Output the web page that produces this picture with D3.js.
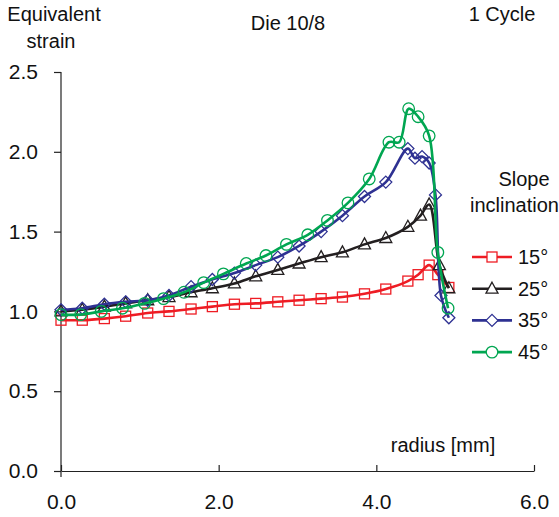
<!DOCTYPE html>
<html>
<head>
<meta charset="utf-8">
<script src="https://cdn.jsdelivr.net/npm/d3@7/dist/d3.min.js"></script>
<style>
  body { margin: 0; background: #fff; }
  svg text { font-family: "Liberation Sans", Arial, sans-serif; fill: #111; }
</style>
</head>
<body>
<svg width="559" height="517"></svg>
<script>
// datos (radio en mm, deformacion equivalente)
var x15 = [0, 0.27, 0.55, 0.82, 1.1, 1.37, 1.65, 1.92, 2.2, 2.47, 2.75, 3.02, 3.3, 3.57, 3.85, 4.12, 4.4, 4.53, 4.67, 4.78, 4.92];
var y15 = [0.945, 0.945, 0.955, 0.97, 0.99, 1.0, 1.015, 1.03, 1.045, 1.05, 1.06, 1.07, 1.08, 1.09, 1.11, 1.14, 1.19, 1.23, 1.29, 1.23, 1.15];

var x25 = [0, 0.27, 0.55, 0.82, 1.1, 1.37, 1.65, 1.92, 2.2, 2.47, 2.75, 3.02, 3.3, 3.57, 3.85, 4.12, 4.4, 4.56, 4.67, 4.8, 4.92];
var y25 = [1.0, 1.01, 1.03, 1.05, 1.07, 1.09, 1.12, 1.145, 1.175, 1.22, 1.26, 1.30, 1.34, 1.37, 1.42, 1.46, 1.53, 1.60, 1.67, 1.29, 1.145];

var x35 = [0, 0.27, 0.55, 0.82, 1.1, 1.37, 1.65, 1.92, 2.2, 2.47, 2.75, 3.02, 3.3, 3.57, 3.85, 4.12, 4.4, 4.49, 4.58, 4.67, 4.75, 4.82, 4.92];
var y35 = [1.01, 1.02, 1.045, 1.06, 1.07, 1.10, 1.155, 1.20, 1.24, 1.29, 1.34, 1.41, 1.50, 1.60, 1.72, 1.81, 2.02, 1.96, 1.97, 1.93, 1.73, 1.10, 0.96];

var x45 = [0, 0.25, 0.51, 0.78, 1.06, 1.3, 1.56, 1.81, 2.06, 2.35, 2.6, 2.86, 3.13, 3.38, 3.64, 3.91, 4.16, 4.29, 4.41, 4.53, 4.67, 4.78, 4.91];
var y45 = [0.98, 0.98, 1.0, 1.02, 1.05, 1.08, 1.12, 1.18, 1.235, 1.30, 1.35, 1.42, 1.48, 1.57, 1.68, 1.83, 2.06, 2.06, 2.27, 2.22, 2.10, 1.37, 1.02];

var etiquetas = ["15°", "25°", "35°", "45°"];
var colores = ["#ee1c24", "#231f20", "#2e3192", "#00a651"];
var simbolos = ["square", "triangle", "diamond", "circle"];
var xTicks = [0, 2, 4, 6];
var yTicks = [0, 0.5, 1, 1.5, 2, 2.5];

var series = [
  {x: x15, y: y15},
  {x: x25, y: y25},
  {x: x35, y: y35},
  {x: x45, y: y45}
];

var svg = d3.select("svg");

var x = d3.scaleLinear().domain([0, 6]).range([61, 534]),
    y = d3.scaleLinear().domain([0, 2.5]).range([471, 72]);

// ejes
var ejeX = svg.append("g")
    .attr("transform", "translate(0," + y(0) + ")")
    .call(d3.axisBottom(x).tickValues(xTicks).tickFormat(d3.format(".1f"))
      .tickSizeInner(-6).tickSizeOuter(0).tickPadding(23));
ejeX.selectAll("text").style("font-size", "21px");

var ejeY = svg.append("g")
    .attr("transform", "translate(" + x(0) + ",0)")
    .call(d3.axisLeft(y).tickValues(yTicks).tickFormat(d3.format(".1f"))
      .tickSizeInner(7).tickSizeOuter(0).tickPadding(16));
ejeY.selectAll("text").style("font-size", "21px");
ejeY.select(".domain").attr("d", "M0," + (y(0) + 6) + "V" + y(2.5));

svg.selectAll(".domain, .tick line").attr("stroke", "#222").attr("stroke-width", 1.2);

var line = d3.line()
    .curve(d3.curveCatmullRom.alpha(0.5))
    .x(function(d) { return x(d[0]); })
    .y(function(d) { return y(d[1]); });

function marcador(sel, tipo, color) {
  if (tipo == "square") {
    sel.append("rect").attr("x", -5).attr("y", -5).attr("width", 10).attr("height", 10);
  } else if (tipo == "triangle") {
    sel.append("path").attr("d", "M0,-6.5L6,4.5L-6,4.5Z");
  } else if (tipo == "diamond") {
    sel.append("path").attr("d", "M0,-6L6,0L0,6L-6,0Z");
  } else {
    sel.append("circle").attr("r", 5.8);
  }
  sel.selectAll("rect, path, circle")
    .attr("fill", "none")
    .attr("stroke", color)
    .attr("stroke-width", 1.3);
}

var grupos = svg.selectAll(".serie")
    .data(series)
    .enter().append("g")
    .attr("class", "serie");

grupos.append("path")
    .attr("fill", "none")
    .attr("stroke", function(d, i) { return colores[i]; })
    .attr("stroke-width", 2.6)
    .attr("d", function(d) { return line(d.x.map(function(v, k) { return [v, d.y[k]]; })); });

grupos.each(function(d, i) {
  var g = d3.select(this);
  d.x.forEach(function(v, k) {
    var m = g.append("g").attr("transform", "translate(" + x(v) + "," + y(d.y[k]) + ")");
    marcador(m, simbolos[i], colores[i]);
  });
});

// leyenda
svg.append("text").attr("x", 524).attr("y", 186).attr("text-anchor", "middle").style("font-size", "20px").text("Slope");
svg.append("text").attr("x", 559).attr("y", 212).attr("text-anchor", "end").style("font-size", "20px").text("inclination");

etiquetas.forEach(function(t, i) {
  var ly = 257 + i * 31.7;
  var g = svg.append("g");
  g.append("line").attr("x1", 472).attr("x2", 512).attr("y1", ly).attr("y2", ly)
    .attr("stroke", colores[i]).attr("stroke-width", 2.6);
  var m = g.append("g").attr("transform", "translate(492," + ly + ")");
  marcador(m, simbolos[i], colores[i]);
  m.selectAll("rect, path, circle").attr("fill", "#fff");
  g.append("text").attr("x", 518).attr("y", ly + 7).style("font-size", "20px").text(t);
});

// textos
svg.append("text").attr("x", 54).attr("y", 21).attr("text-anchor", "middle").style("font-size", "20px").text("Equivalent");
svg.append("text").attr("x", 51).attr("y", 48).attr("text-anchor", "middle").style("font-size", "20px").text("strain");
svg.append("text").attr("x", 288).attr("y", 30).attr("text-anchor", "middle").style("font-size", "20px").text("Die 10/8");
svg.append("text").attr("x", 502).attr("y", 21).attr("text-anchor", "middle").style("font-size", "20px").text("1 Cycle");
svg.append("text").attr("x", 443).attr("y", 452).attr("text-anchor", "middle").style("font-size", "20px").text("radius [mm]");
</script>
</body>
</html>
